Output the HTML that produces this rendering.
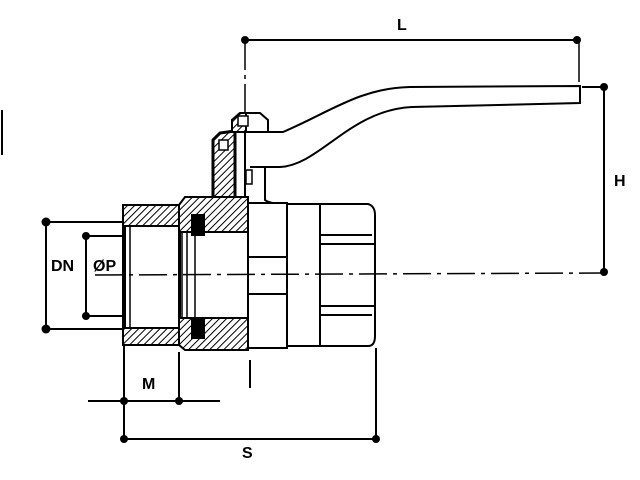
<!DOCTYPE html>
<html><head><style>html,body{margin:0;padding:0;background:#fff}svg{display:block}text{font-family:"Liberation Sans",sans-serif;font-weight:bold;font-size:16px}</style></head>
<body>
<svg width="640" height="480" viewBox="0 0 640 480" xmlns="http://www.w3.org/2000/svg">
<defs>
<pattern id="h" width="5" height="5" patternUnits="userSpaceOnUse" patternTransform="rotate(45)">
<rect width="5" height="5" fill="#fff"/><line x1="0" y1="0" x2="0" y2="5" stroke="#000" stroke-width="2"/></pattern>
</defs>
<g stroke="#000" stroke-width="2" fill="none">
<line x1="2" y1="110" x2="2" y2="155"/>
<line x1="245" y1="40" x2="577" y2="40"/>
<line x1="245" y1="40" x2="245" y2="112" stroke-dasharray="30,5,4,5" stroke-width="1.5"/>
<line x1="579" y1="40" x2="579" y2="82" stroke-width="1.5"/>
<line x1="582" y1="87" x2="604" y2="87"/>
<line x1="604" y1="87" x2="604" y2="272"/>
<line x1="46" y1="222" x2="122" y2="222"/>
<line x1="46" y1="329" x2="122" y2="329"/>
<line x1="46" y1="222" x2="46" y2="329"/>
<line x1="86" y1="236" x2="180" y2="236"/>
<line x1="86" y1="316" x2="180" y2="316"/>
<line x1="86" y1="236" x2="86" y2="316"/>
<line x1="88" y1="401" x2="220" y2="401"/>
<line x1="124" y1="345" x2="124" y2="439"/>
<line x1="179" y1="352" x2="179" y2="401"/>
<line x1="124" y1="439" x2="376" y2="439"/>
<line x1="376" y1="348" x2="376" y2="439"/>
<line x1="250" y1="360" x2="250" y2="388"/>
<!-- stem column -->
<path d="M245 132 L245 200 M265 167 L265 200 Q270 204 287 204" />
<rect x="246" y="170" width="6" height="14" stroke-width="1.5"/>
<!-- handle -->
<path d="M250 132 L283 132 C330 112 360 88 410 87 L580 86 L580 103 L412 107 C350 110 320 165 280 167 L250 167" fill="#fff"/>
<!-- gland -->
<path d="M213 200 L213 140 L220 133 L235 131 L235 200 Z" fill="url(#h)" stroke-width="3"/>
<rect x="219" y="140" width="9" height="10" fill="#fff" stroke-width="1.5"/>
<!-- cap -->
<path d="M232 132 L232 120 L240 113 L260 113 L268 120 L268 132 Z" fill="#fff"/>
<path d="M232 132 L232 120 L240 113 L246 113 L246 132 Z" fill="url(#h)"/>
<rect x="238" y="116" width="10" height="10" fill="#fff" stroke-width="1.5"/>
<!-- left nut -->
<rect x="123" y="205" width="56" height="140" fill="url(#h)"/>
<rect x="125" y="226" width="54" height="102" fill="#fff"/>
<line x1="130" y1="226" x2="130" y2="328" stroke-width="1.5"/>
<!-- body left part -->
<path d="M179 205 L185 197 L248 197 L248 350 L185 350 L179 345 Z" fill="url(#h)"/>
<rect x="180" y="232" width="68" height="86" fill="#fff"/>
<line x1="182" y1="232" x2="182" y2="318" stroke-width="1.5"/>
<line x1="187" y1="232" x2="187" y2="318" stroke-width="1.5"/>
<line x1="195" y1="232" x2="195" y2="318" stroke-width="1.5"/>
<rect x="192" y="215" width="12" height="20" fill="#000"/>
<rect x="192" y="318" width="12" height="20" fill="#000"/>
<!-- right body -->
<rect x="248" y="203" width="39" height="145" fill="#fff"/>
<line x1="248" y1="257" x2="287" y2="257"/>
<line x1="248" y1="294" x2="287" y2="294"/>
<!-- hex -->
<path d="M287 204 L368 204 Q375 206 375 215 L375 336 Q375 346 368 346 L287 346 Z" fill="#fff"/>
<line x1="320" y1="204" x2="320" y2="346"/>
<line x1="320" y1="235" x2="372" y2="235"/>
<line x1="320" y1="244" x2="374" y2="244"/>
<line x1="320" y1="306" x2="374" y2="306"/>
<line x1="320" y1="315" x2="372" y2="315"/>
</g>
<line x1="95" y1="275" x2="604" y2="273" stroke="#000" stroke-width="1.5" stroke-dasharray="28,6,4,6"/>
<g fill="#000">
<circle cx="245" cy="40" r="4"/><circle cx="577" cy="40" r="4"/>
<circle cx="604" cy="87" r="4"/><circle cx="604" cy="272" r="4"/>
<circle cx="46" cy="222" r="4.5"/><circle cx="46" cy="329" r="4.5"/>
<circle cx="86" cy="236" r="4"/><circle cx="86" cy="316" r="4"/>
<circle cx="124" cy="401" r="4"/><circle cx="179" cy="401" r="4"/>
<circle cx="124" cy="439" r="4"/><circle cx="376" cy="439" r="4"/>
<text x="397" y="30">L</text>
<text x="614" y="186">H</text>
<text x="51" y="271">DN</text>
<text x="93" y="271">ØP</text>
<text x="142" y="389">M</text>
<text x="242" y="458">S</text>
</g>
</svg>
</body></html>
